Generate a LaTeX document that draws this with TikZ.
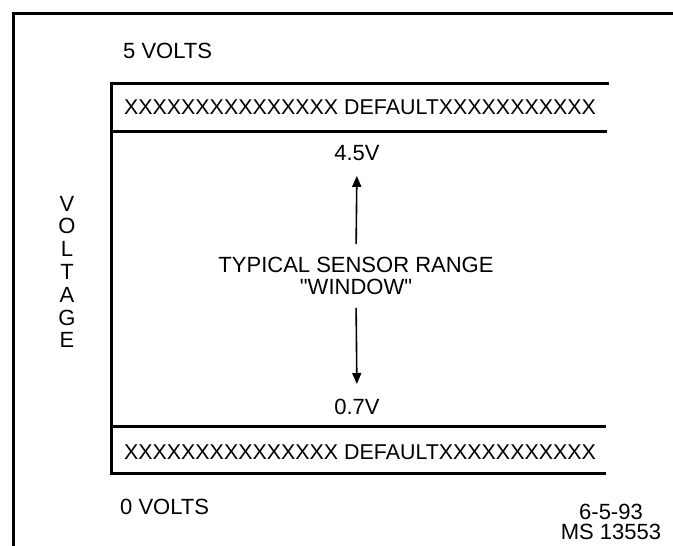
\documentclass[tikz,border=0pt]{standalone}
\usepackage{fontspec}
\setmainfont{Liberation Sans}[Ligatures=TeXOff]
\usetikzlibrary{arrows.meta}

\begin{document}
\begin{tikzpicture}[
    x=1pt, y=-1pt,
    frame/.style={line width=3pt, line cap=rect},
    lbl/.style={inner sep=0pt, font=\fontsize{22}{22}\selectfont},
    band/.style={inner sep=0pt, font=\fontsize{21.4}{22}\selectfont},
    rng/.style={-{Triangle[length=11pt,width=9pt]}, line width=1.6pt,
                shorten <=13pt, shorten >=15pt},
]
\useasboundingbox (0,0) rectangle (673,546);

% Outer frame (open on the right and at the bottom).
\draw[frame] (13,546) -- (13,13) -- (673,13);

% Voltage chart with the two default bands.
\draw[frame] (607,83) -- (111,83) -- (111,473) -- (604,473);
\draw[frame] (111,131) -- (605,131);
\draw[frame] (111,426) -- (604,426);

\node[band] (hiband) at (360,107) {XXXXXXXXXXXXXXX DEFAULTXXXXXXXXXXX};
\node[band] (loband) at (360,452) {XXXXXXXXXXXXXXX DEFAULTXXXXXXXXXXX};

% Rail labels.
\node[lbl, anchor=west] (fivev) at (123,51) {5 VOLTS};
\node[lbl, anchor=west] (zerov) at (120,507) {0 VOLTS};

% Axis label, one letter per line.
\node[lbl, align=center, font=\fontsize{22}{22.8}\selectfont] (volt) at (67,272)
  {V\\O\\L\\T\\A\\G\\E};

% Sensor window.
\node[lbl] (hi) at (357,153) {4.5V};
\node[lbl] (lo) at (357,407) {0.7V};
\node[lbl, align=center, anchor=north] (win) at (356,257)
  {TYPICAL SENSOR RANGE\\"WINDOW"};
\draw[rng] (win.north) -- (hi.south);
\draw[rng] (win.south) -- (lo.north);

% Drawing reference.
\node[lbl, align=center, font=\fontsize{22}{20}\selectfont] (ref) at (611,522)
  {6-5-93\\MS 13553};
\end{tikzpicture}
\end{document}
